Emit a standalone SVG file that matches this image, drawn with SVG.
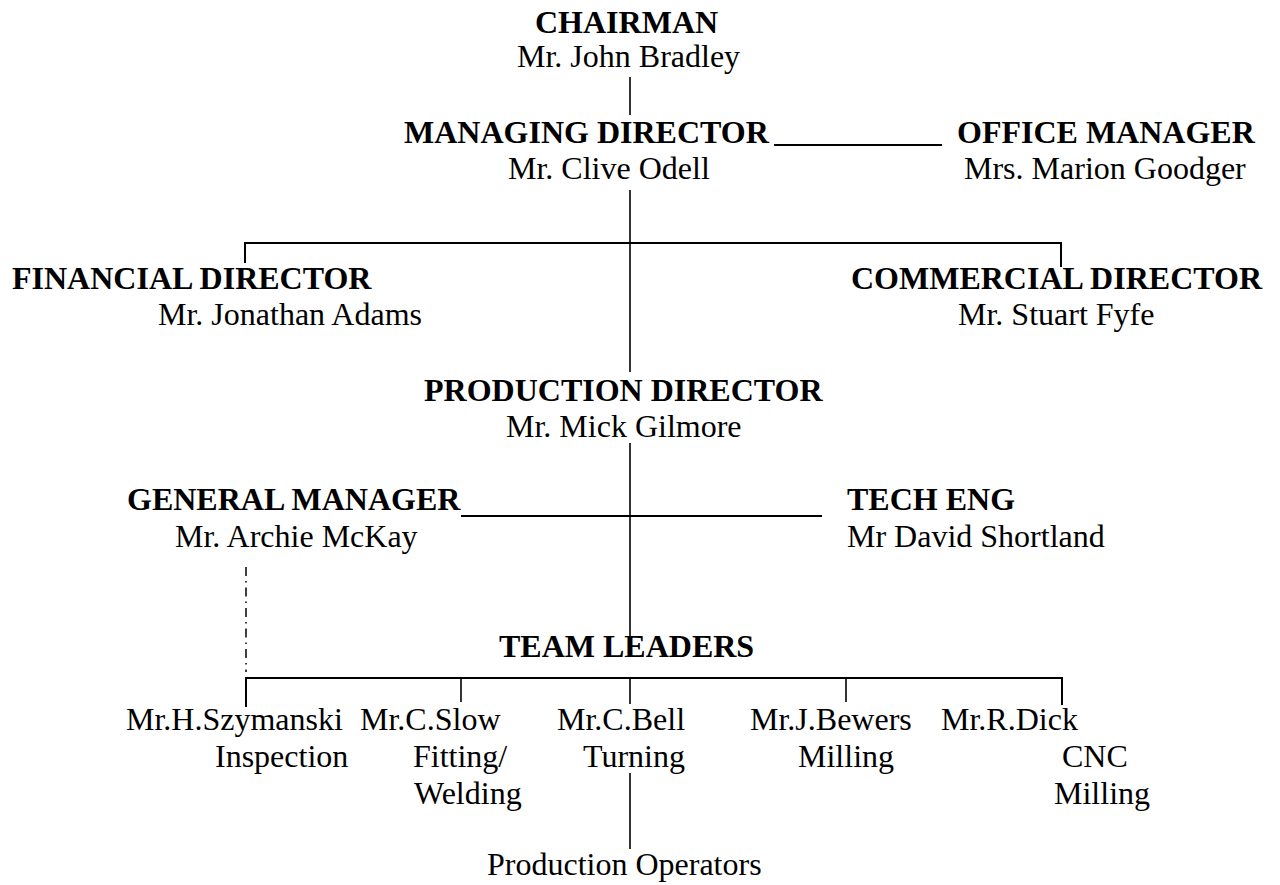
<svg xmlns="http://www.w3.org/2000/svg" width="1280" height="885" viewBox="0 0 1280 885">
<style>
text{font-family:"Liberation Serif","Times New Roman",serif;font-size:32px;fill:#000}
.b{font-weight:bold}
.ln{stroke:#000;stroke-width:1.6;fill:none}
.h{stroke:#000;stroke-width:2;fill:none}
.dd{stroke:#000;stroke-width:1.5;fill:none;stroke-dasharray:9 5 1.5 5}
</style>
<rect width="1280" height="885" fill="#fff"/>
<g id="connectors">
<line class="ln" x1="630" y1="77" x2="630" y2="115"/>
<line class="h" x1="774" y1="145" x2="942" y2="145"/>
<line class="ln" x1="630" y1="190" x2="630" y2="372"/>
<polyline class="h" points="245,263 245,243 1061,243 1061,267"/>
<line class="ln" x1="630" y1="443" x2="630" y2="645"/>
<line class="h" x1="461" y1="516" x2="822" y2="516"/>
<line class="dd" x1="246" y1="567" x2="246" y2="672"/>
<polyline class="h" points="246,707 246,678 1062,678 1062,705"/>
<line class="ln" x1="461" y1="678" x2="461" y2="702"/>
<line class="ln" x1="630" y1="678" x2="630" y2="704"/>
<line class="ln" x1="846" y1="678" x2="846" y2="702"/>
<line class="ln" x1="630" y1="773" x2="630" y2="849"/>
</g>
<g id="chairman"><text class="b" x="535" y="33">CHAIRMAN</text><text x="517" y="67">Mr. John Bradley</text></g>
<g id="managing-director"><text class="b" x="404" y="143">MANAGING DIRECTOR</text><text x="508" y="179">Mr. Clive Odell</text></g>
<g id="office-manager"><text class="b" x="957" y="143">OFFICE MANAGER</text><text x="964" y="179">Mrs. Marion Goodger</text></g>
<g id="financial-director"><text class="b" x="12" y="289">FINANCIAL DIRECTOR</text><text x="158" y="325">Mr. Jonathan Adams</text></g>
<g id="commercial-director"><text class="b" x="851" y="289">COMMERCIAL DIRECTOR</text><text x="958" y="325">Mr. Stuart Fyfe</text></g>
<g id="production-director"><text class="b" x="424" y="401">PRODUCTION DIRECTOR</text><text x="506" y="437">Mr. Mick Gilmore</text></g>
<g id="general-manager"><text class="b" x="127" y="510">GENERAL MANAGER</text><text x="175" y="547">Mr. Archie McKay</text></g>
<g id="tech-eng"><text class="b" x="847" y="510">TECH ENG</text><text x="847" y="547">Mr David Shortland</text></g>
<g id="team-leaders"><text class="b" x="499" y="657">TEAM LEADERS</text></g>
<g id="szymanski"><text x="126" y="730">Mr.H.Szymanski</text><text x="215" y="767">Inspection</text></g>
<g id="slow"><text x="360" y="730">Mr.C.Slow</text><text x="413" y="767">Fitting/</text><text x="414" y="804">Welding</text></g>
<g id="bell"><text x="557" y="730">Mr.C.Bell</text><text x="583" y="767">Turning</text></g>
<g id="bewers"><text x="750" y="730">Mr.J.Bewers</text><text x="798" y="767">Milling</text></g>
<g id="dick"><text x="941" y="730">Mr.R.Dick</text><text x="1062" y="767">CNC</text><text x="1054" y="804">Milling</text></g>
<g id="production-operators"><text x="487" y="875">Production Operators</text></g>
</svg>
